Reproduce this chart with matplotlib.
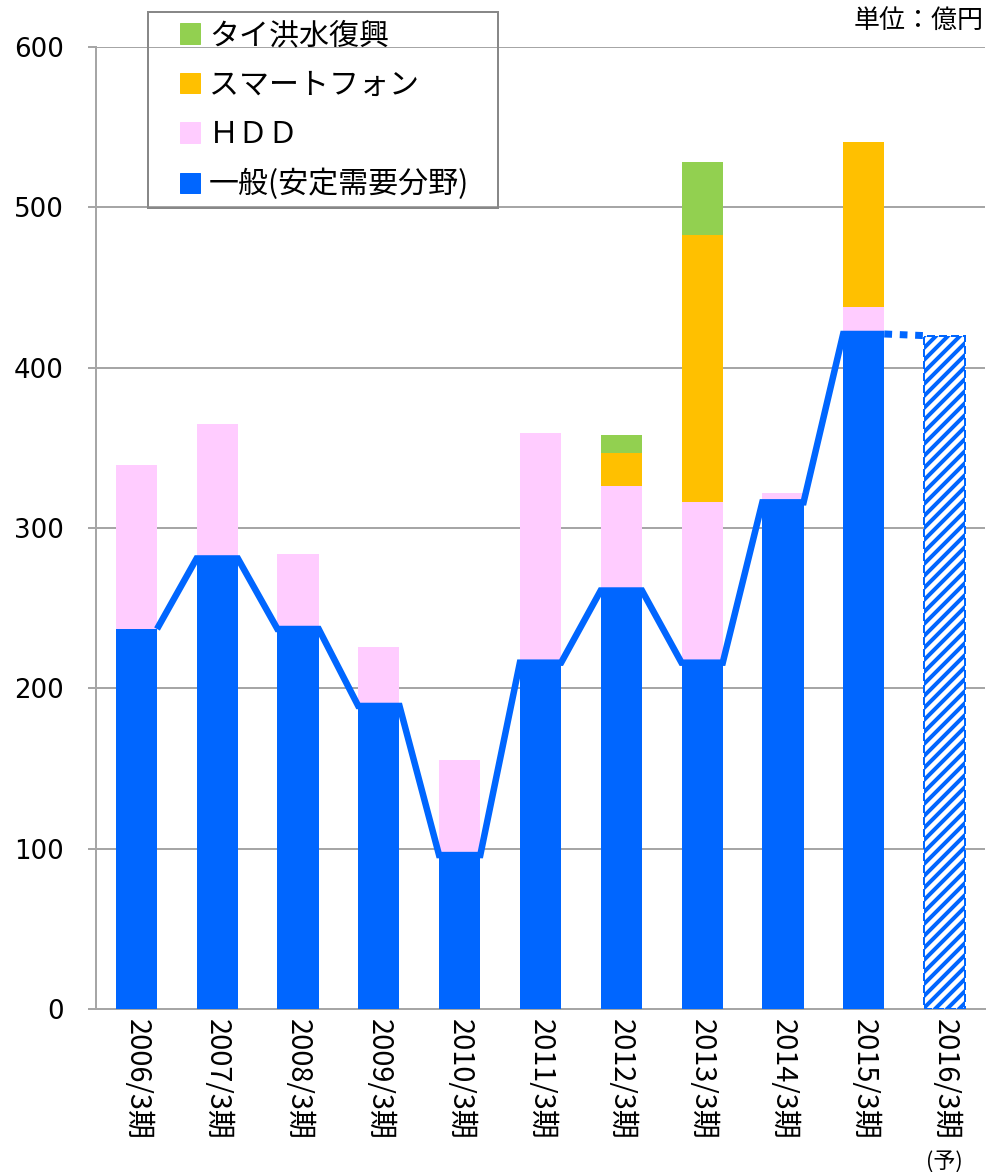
import matplotlib
matplotlib.use("Agg")
import matplotlib.pyplot as plt
from matplotlib.patches import Patch, Rectangle

# values in 億円
periods = ["2006/3期", "2007/3期", "2008/3期", "2009/3期", "2010/3期", "2011/3期",
           "2012/3期", "2013/3期", "2014/3期", "2015/3期", "2016/3期"]
general = [237, 281, 237, 189, 96, 216, 261, 216, 316, 421]
hdd = [102, 84, 47, 37, 59, 143, 65, 100, 6, 17]
smartphone = [0, 0, 0, 0, 0, 0, 21, 167, 0, 103]
thai_flood = [0, 0, 0, 0, 0, 0, 11, 45, 0, 0]
forecast = 420

BLUE = "#0066ff"
PINK = "#ffccff"
ORANGE = "#ffc000"
GREEN = "#92d050"
GRID = "#a6a6a6"
JP = ["Noto Sans CJK JP", "DejaVu Sans"]

plt.rcParams["hatch.color"] = BLUE
plt.rcParams["hatch.linewidth"] = 4

DPI = 72  # 1 pt == 1 px
fig = plt.figure(figsize=(986 / DPI, 1172 / DPI), dpi=DPI)
ax = fig.add_axes([96 / 986, 163 / 1172, 889 / 986, 962 / 1172])

w = 0.51
x = list(range(len(general)))
b1 = [g + h for g, h in zip(general, hdd)]
b2 = [a + s for a, s in zip(b1, smartphone)]

ax.bar(x, general, w, color=BLUE, zorder=3)
ax.bar(x, hdd, w, bottom=general, color=PINK, zorder=3)
ax.bar(x, smartphone, w, bottom=b1, color=ORANGE, zorder=3)
ax.bar(x, thai_flood, w, bottom=b2, color=GREEN, zorder=3)
ax.bar(10, forecast, w, facecolor="white", edgecolor=BLUE, hatch="//",
       linestyle=(0, (4, 2)), linewidth=2, zorder=3)

# trend line along the tops of the general bars
lx, ly = [], []
for i, v in zip(x, general):
    lx += [i - w / 2, i + w / 2]
    ly += [v, v]
ax.plot(lx[1:], ly[1:], color=BLUE, lw=6.5, zorder=4, solid_joinstyle="miter",
        solid_capstyle="butt")
ax.plot([9 + w / 2, 10 - w / 2], [general[-1], forecast], color=BLUE, lw=7,
        linestyle=(0, (1.1, 1.1)), dash_capstyle="butt", zorder=4)

ax.set_xlim(-0.5, 10.5)
ax.set_ylim(0, 600)
ax.set_yticks(range(0, 601, 100))
ax.yaxis.grid(True, color=GRID, lw=2)
ax.set_axisbelow(True)
for s in ["top", "right"]:
    ax.spines[s].set_visible(False)
for s in ["left", "bottom"]:
    ax.spines[s].set_color(GRID)
    ax.spines[s].set_linewidth(2)
ax.tick_params(axis="y", length=8, width=2, color=GRID, pad=24, labelsize=26)
ax.tick_params(axis="x", length=0, pad=10)
ax.set_xticks(range(len(periods)))
ax.set_xticklabels(periods, rotation=-90, fontsize=29, family=JP, va="top")
for t in ax.get_yticklabels():
    t.set_family("DejaVu Sans")

ax.text(10, -95, "(予)", ha="center", va="center",
        fontsize=22, family=JP, clip_on=False)
fig.text(984 / 986, 1 - 20 / 1172, "単位：億円", ha="right", va="center",
         fontsize=26, family=JP)

handles = [Patch(color=GREEN, label="タイ洪水復興"),
           Patch(color=ORANGE, label="スマートフォン"),
           Patch(color=PINK, label="ＨＤＤ"),
           Patch(color=BLUE, label="一般(安定需要分野)")]
fig.legend(handles=handles, loc="upper left",
           bbox_to_anchor=(180 / 986, 1 - 20 / 1172),
           prop={"family": JP, "size": 30}, frameon=False,
           handlelength=0.67, handleheight=0.67, handletextpad=0.3,
           labelspacing=0.62, borderpad=0, borderaxespad=0)
fig.patches.append(Rectangle((148 / 986, 1 - 208 / 1172), 350 / 986, 196 / 1172,
                             transform=fig.transFigure, facecolor="none",
                             edgecolor="#888888", lw=2, zorder=5))

fig.savefig("out.png", dpi=DPI)
